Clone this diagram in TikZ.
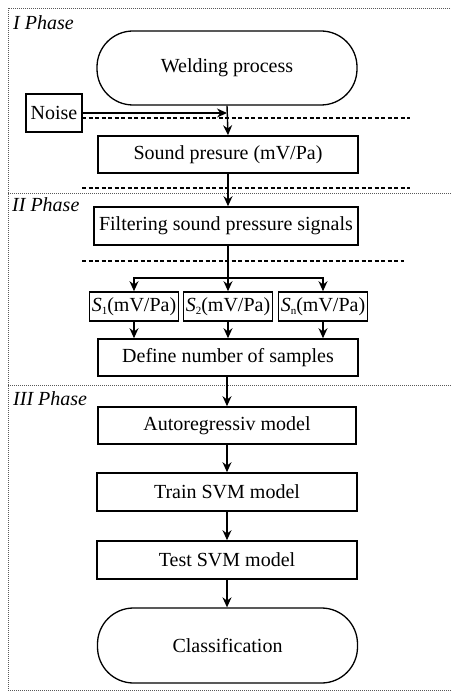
\documentclass[tikz,border=0pt]{standalone}
\usepackage{fontspec}
\setmainfont{Liberation Serif}
\usepackage{tikz}
\usetikzlibrary{arrows.meta, positioning, calc}
\tikzset{>={Stealth[length=10pt,width=9pt]}}
\tikzset{
	procbox/.style = {draw, line width=1.6pt, minimum width=260pt, minimum height=37pt, inner sep=1pt},
	roundbox/.style = {draw, line width=1.3pt, rounded corners=36pt, minimum width=260pt, minimum height=74pt},
	sbox/.style = {draw, line width=1.6pt, minimum width=89pt, minimum height=29pt, inner sep=0.5pt},
	phaselabel/.style = {anchor=west, inner sep=0pt, font=\fontsize{20}{23}\selectfont\itshape},
	phasesep/.style = {gray!70!black, line width=0.9pt, dash pattern=on 1pt off 1pt},
	dashsep/.style = {line width=1.4pt, dash pattern=on 4pt off 2.5pt},
	flow/.style = {->, line width=1.4pt}
}

\begin{document}
\begin{tikzpicture}[x=1pt, y=-1pt, font=\fontsize{20}{23}\selectfont]

	\useasboundingbox (0,0) rectangle (450,692);

	% phase frame
	\draw [phasesep] (452,8) -- (8,8) -- (8,690) -- (452,690);
	\draw [phasesep] (8,193) -- (452,193);
	\draw [phasesep] (8,385) -- (452,385);
	\node [phaselabel] (ph1) at (13,23) {I Phase};
	\node [phaselabel] (ph2) at (12,205) {II Phase};
	\node [phaselabel] (ph3) at (13,399) {III Phase};

	% I phase
	\node [roundbox] (weld) at (227,68) {Welding process};
	\node [procbox, minimum width=56pt, minimum height=38pt] (noise) at (54,113) {Noise};
	\node [procbox] (sound) at (228,154.5) {Sound presure (mV/Pa)};
	\coordinate (hit) at (weld.south |- noise.east);
	\draw [flow] (weld.south) -- (sound.north);
	\draw [flow] (noise.east) -- (hit);
	\draw [dashsep] (82,118) -- (410,118);
	\draw [dashsep] (82,188) -- (410,188);

	% II phase
	\node [procbox, minimum width=264pt, minimum height=38pt] (filt) at (226,226) {Filtering sound pressure signals};
	\draw [flow] (sound.south) -- (sound.south |- filt.north);
	\draw [dashsep] (82,261) -- (404,261);

	\node [sbox] (s1) at (134,306.5) {\textit{S}{\fontsize{11}{12}\selectfont\raisebox{-3pt}{1}}(mV/Pa)};
	\node [sbox] (s2) at (228,306.5) {\textit{S}{\fontsize{11}{12}\selectfont\raisebox{-3pt}{2}}(mV/Pa)};
	\node [sbox] (sn) at (323,306.5) {\textit{S}{\fontsize{11}{12}\selectfont\raisebox{-3pt}{n}}(mV/Pa)};
	\coordinate (split) at (s2.north |- 0,278);
	\draw [line width=1.4pt] (filt.south -| split) -- (split);
	\draw [flow] (split) -| (s1.north);
	\draw [flow] (split) -- (s2.north);
	\draw [flow] (split) -| (sn.north);

	\node [procbox] (define) at (228,357.5) {Define number of samples};
	\foreach \s in {s1,s2,sn}
		\draw [flow] (\s.south) -- (\s.south |- define.north);

	% III phase
	\node [procbox, minimum width=258pt] (ar) at (227,425.5) {Autoregressiv model};
	\node [procbox, minimum height=38pt] (train) at (227,492) {Train SVM model};
	\node [procbox, minimum height=38pt] (test) at (227,560) {Test SVM model};
	\node [roundbox, minimum height=75pt] (class) at (227.5,645.5) {Classification};

	\draw [flow] (define.south -| ar.north) -- (ar.north);
	\draw [flow] (ar.south) -- (train.north);
	\draw [flow] (train.south) -- (test.north);
	\draw [flow] (test.south) -- (test.south |- class.north);

\end{tikzpicture}
\end{document}
